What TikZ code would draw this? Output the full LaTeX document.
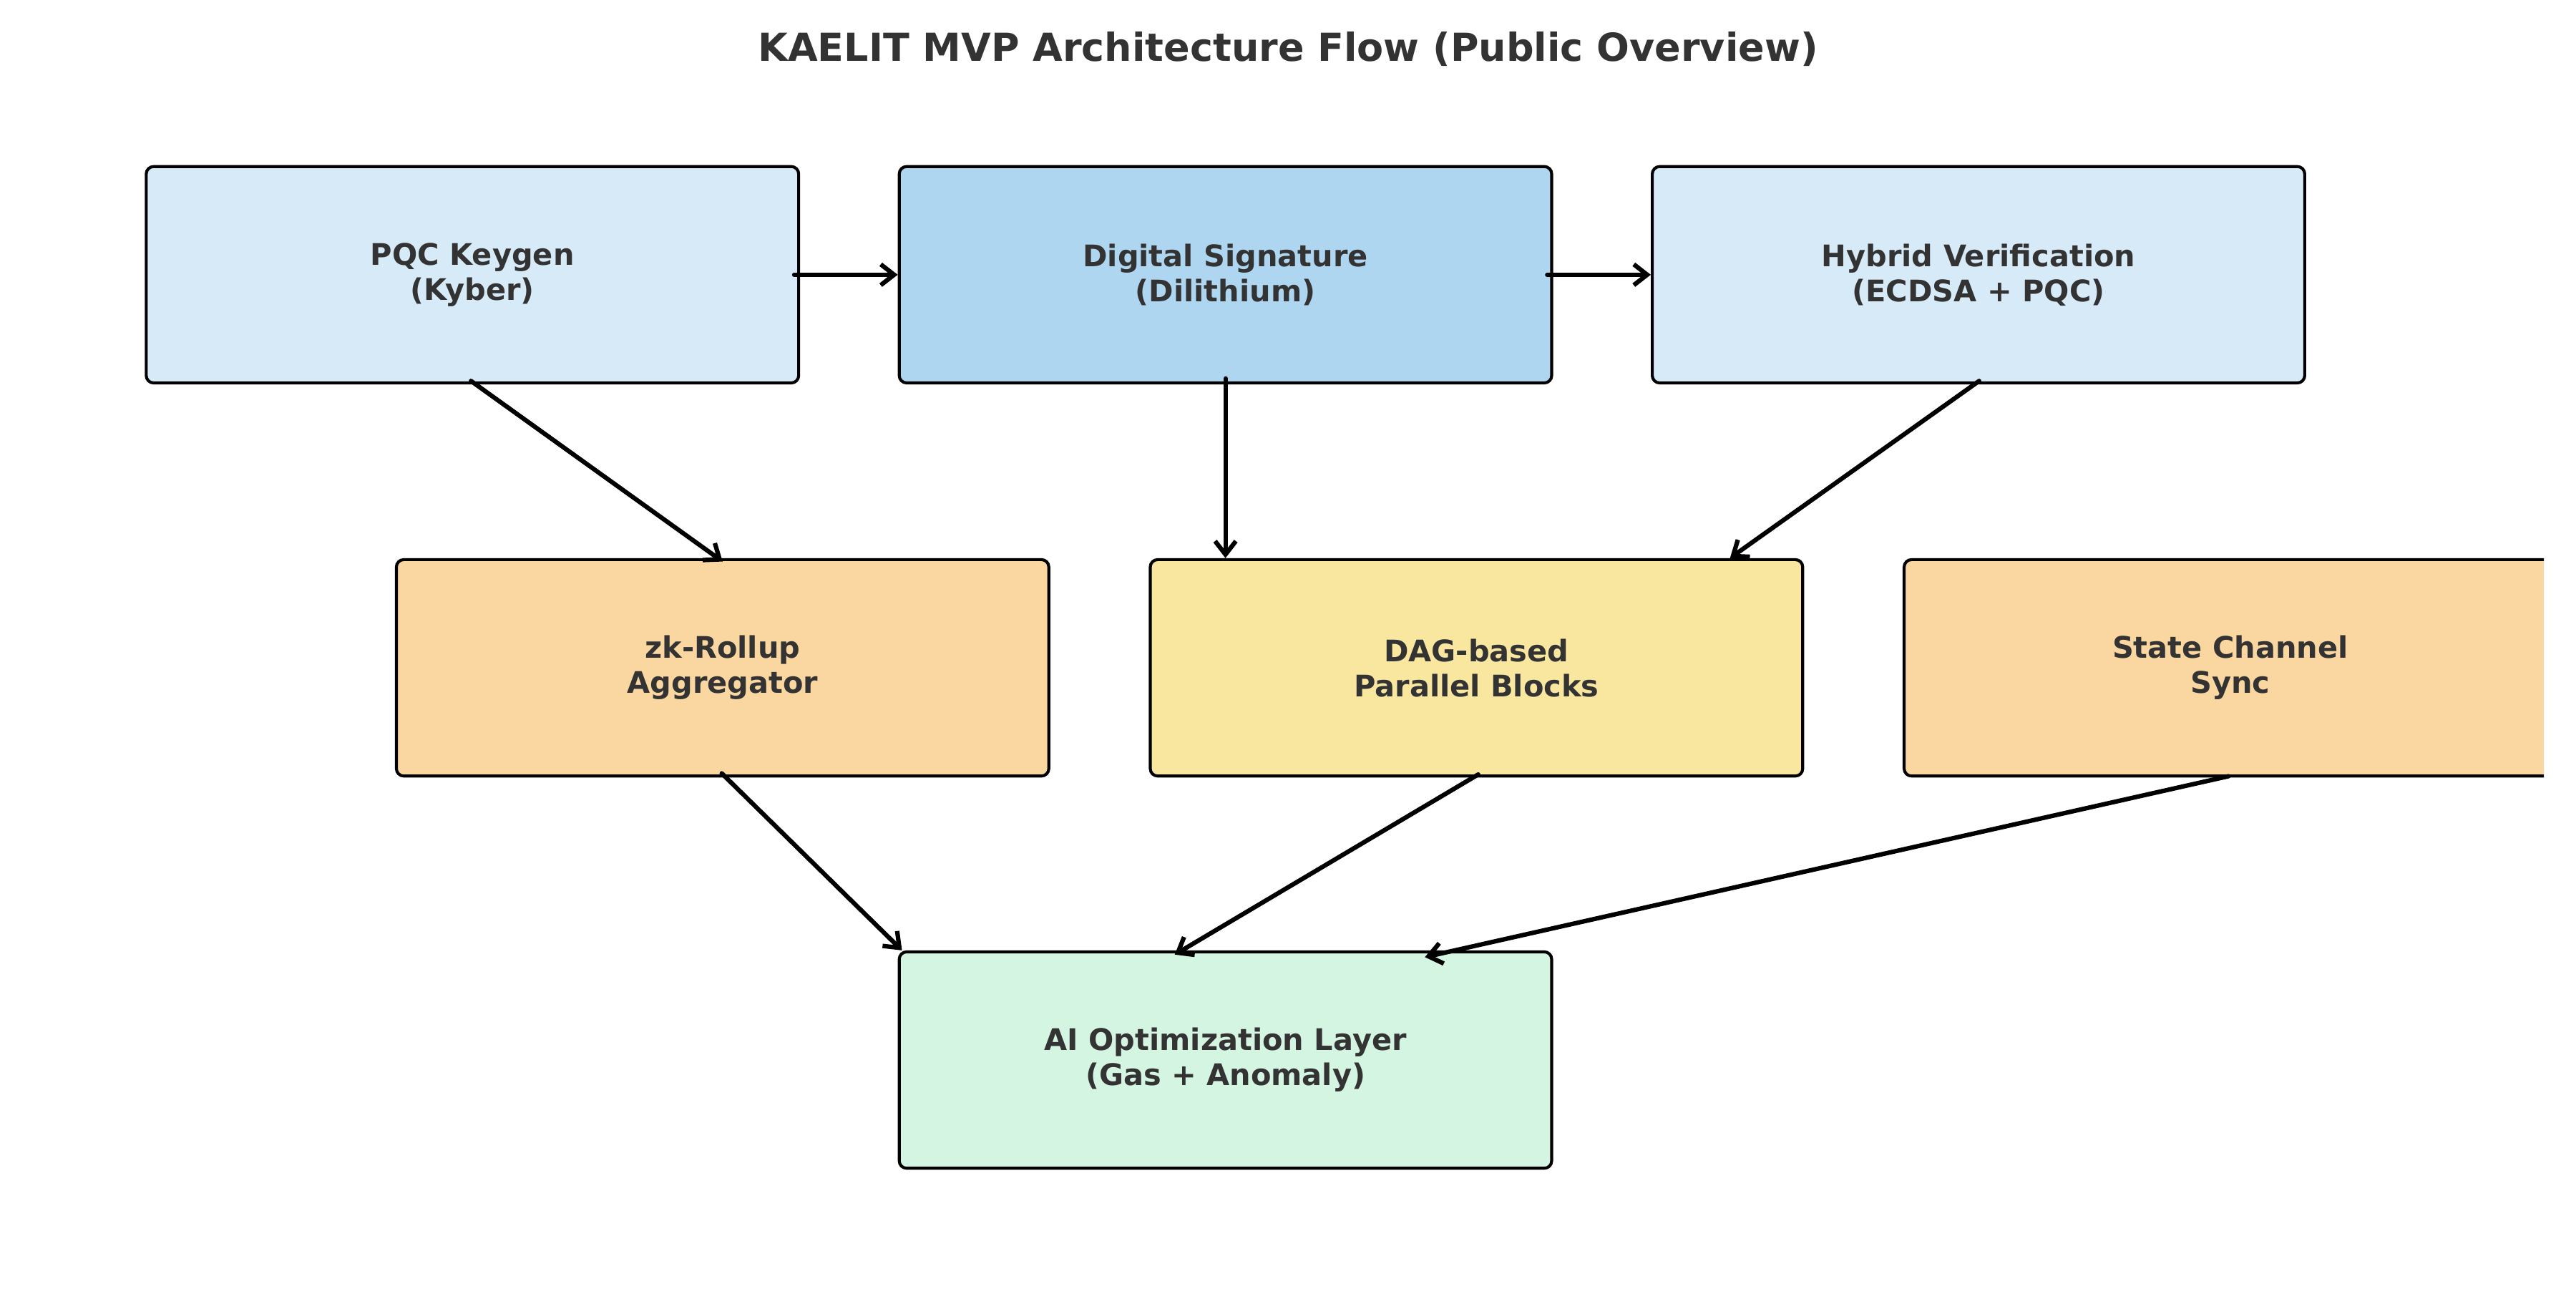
\documentclass[tikz,border=0pt]{standalone}
\usepackage{fontspec}
\setmainfont{DejaVu Sans}
\usetikzlibrary{arrows.meta}
\definecolor{keyblue}{HTML}{D6EAF8}
\definecolor{sigblue}{HTML}{AED6F1}
\definecolor{rollorange}{HTML}{FAD7A0}
\definecolor{dagyellow}{HTML}{F9E79F}
\definecolor{aigreen}{HTML}{D5F5E3}
\definecolor{txtgray}{HTML}{333333}
\tikzset{
  blk/.style={draw=black, line width=1pt, rounded corners=2.5pt,
    minimum width=7.72cm, minimum height=2.56cm, inner sep=0pt,
    align=center, text=txtgray, font=\bfseries\fontsize{10}{11.8}\selectfont},
  arr/.style={-{Straight Barb[length=4.5pt,width=7pt]}, line width=1.5pt,
    line cap=round, shorten <=-2pt},
}
\begin{document}
\begin{tikzpicture}[x=1cm,y=1cm]
  \useasboundingbox (0,0) rectangle (30.48,-15.24);
  \begin{scope}
    \clip (0,0) rectangle (30.10,-15.24);
    % title
    \node[anchor=base, text=txtgray, font=\bfseries\fontsize{13}{15}\selectfont]
      (title) at (15.24,-0.72) {KAELIT MVP Architecture Flow (Public Overview)};
    %
    \node[blk, fill=keyblue] (keygen) at (5.59,-3.25) {PQC Keygen\\(Kyber)};
    \node[blk, fill=sigblue] (sig) at (14.50,-3.25) {Digital Signature\\(Dilithium)};
    \node[blk, fill=keyblue] (hybrid) at (23.41,-3.25) {Hybrid Verification\\(ECDSA + PQC)};
    %
    \node[blk, fill=rollorange] (rollup) at (8.55,-7.90) {zk-Rollup\\Aggregator};
    \node[blk, fill=dagyellow] (dag) at (17.47,-7.90) {DAG-based\\Parallel Blocks};
    \node[blk, fill=rollorange] (channel) at (26.39,-7.90) {State Channel\\Sync};
    %
    \node[blk, fill=aigreen] (ai) at (14.50,-12.54) {AI Optimization Layer\\(Gas + Anomaly)};
    %
    \draw[arr] (keygen.east) -- (sig.west);
    \draw[arr] (sig.east) -- (hybrid.west);
    \draw[arr] ([xshift=0.04cm]keygen.south) -- ([yshift=-0.04cm]rollup.north);
    \draw[arr] (sig.south) -- (sig.south |- dag.north);
    \draw[arr] ([xshift=-0.05cm]hybrid.south) -- ([xshift=3cm]dag.north);
    \draw[arr] ([xshift=0.04cm]rollup.south) -- ([xshift=0.05cm]ai.north west);
    \draw[arr] ([xshift=-0.04cm]dag.south) -- ([xshift=-0.6cm,yshift=-0.05cm]ai.north);
    \draw[arr] ([xshift=-0.09cm]channel.south) -- ([xshift=2.36cm,yshift=-0.08cm]ai.north);
  \end{scope}
\end{tikzpicture}
\end{document}
